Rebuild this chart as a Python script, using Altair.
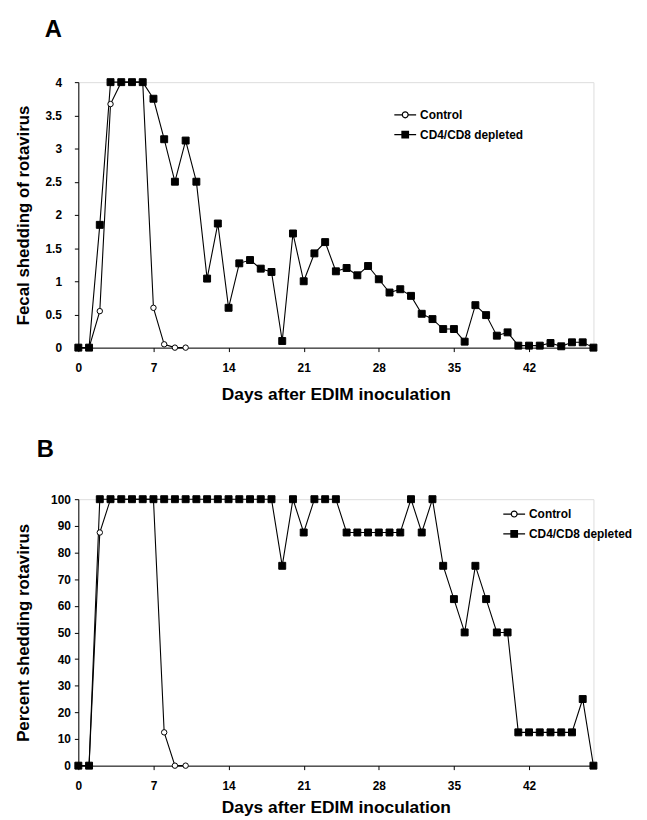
import altair as alt
import pandas as pd

FONT = "Liberation Sans"

# ---- Panel A: fecal shedding score ----
a_ctrl_days = [0, 1, 2, 3, 4, 5, 6, 7, 8, 9, 10]
a_ctrl_vals = [0, 0, 0.55, 3.67, 4, 4, 4, 0.6, 0.05, 0, 0]
a_dep_days = [0, 1, 2, 3, 4, 5, 6, 7, 8, 9, 10, 11, 12, 13, 14, 15, 16, 17, 18, 19, 20,
              21, 22, 23, 24, 25, 26, 27, 28, 29, 30, 31, 32, 33, 34, 35, 36, 37, 38, 39,
              40, 41, 42, 43, 44, 45, 46, 47, 48]
a_dep_vals = [0, 0, 1.85, 4, 4, 4, 4, 3.75, 3.14, 2.5, 3.12, 2.5, 1.04, 1.87, 0.6, 1.27,
              1.32, 1.19, 1.14, 0.1, 1.72, 1.0, 1.42, 1.59, 1.15, 1.2, 1.09, 1.23, 1.03,
              0.83, 0.88, 0.78, 0.51, 0.43, 0.28, 0.28, 0.09, 0.64, 0.49, 0.18, 0.23,
              0.03, 0.03, 0.03, 0.07, 0.02, 0.08, 0.08, 0.0]

# ---- Panel B: percent shedding ----
b_ctrl_days = [0, 1, 2, 3, 4, 5, 6, 7, 8, 9, 10]
b_ctrl_vals = [0, 0, 87.5, 100, 100, 100, 100, 100, 12.5, 0, 0]
b_dep_days = a_dep_days
b_dep_vals = [0, 0, 100, 100, 100, 100, 100, 100, 100, 100, 100, 100, 100, 100, 100, 100,
              100, 100, 100, 75, 100, 87.5, 100, 100, 100, 87.5, 87.5, 87.5, 87.5, 87.5,
              87.5, 100, 87.5, 100, 75, 62.5, 50, 75, 62.5, 50, 50, 12.5, 12.5, 12.5,
              12.5, 12.5, 12.5, 25, 0]

series_names = ["Control", "CD4/CD8 depleted"]
x_ticks = [0, 7, 14, 21, 28, 35, 42]
a_y_ticks = [0, 0.5, 1, 1.5, 2, 2.5, 3, 3.5, 4]
b_y_ticks = [0, 10, 20, 30, 40, 50, 60, 70, 80, 90, 100]


def frame(cd, cv, dd, dv):
    rows = [{"day": d, "value": v, "series": series_names[0]} for d, v in zip(cd, cv)]
    rows += [{"day": d, "value": v, "series": series_names[1]} for d, v in zip(dd, dv)]
    return pd.DataFrame(rows)


ctrl_path = ("M-1,0H-0.27M0.27,0H1M0.27,0A0.27,0.27,0,1,1,-0.27,0"
             "A0.27,0.27,0,1,1,0.27,0Z")
dep_path = "M-1,0H1M-0.3,-0.3H0.3V0.3H-0.3Z"


def panel(df, letter, title_dx, title_offset, y_title, y_ticks, y_max, height,
          y_label_pad, y_title_pad, legend_x, legend_y, fmt, x_title_pad):
    x = alt.X("day:Q", scale=alt.Scale(domain=[0, 48], nice=False),
              axis=alt.Axis(values=x_ticks, title="Days after EDIM inoculation",
                            grid=False, tickSize=4, labelPadding=11,
                            titlePadding=x_title_pad,
                            labelFontSize=12, labelFontWeight="bold", titleFontSize=17.5,
                            titleFontWeight="bold", labelFont=FONT, titleFont=FONT,
                            domainColor="black", tickColor="black", labelColor="black",
                            titleColor="black", labelFlush=False))
    y = alt.Y("value:Q", scale=alt.Scale(domain=[0, y_max], nice=False),
              axis=alt.Axis(values=y_ticks, title=y_title, grid=False, tickSize=4,
                            labelPadding=y_label_pad, titlePadding=y_title_pad,
                            format=fmt, labelFontSize=12, labelFontWeight="bold",
                            titleFontSize=17, titleFontWeight="bold", labelFont=FONT,
                            titleFont=FONT, domainColor="black", tickColor="black",
                            labelColor="black", titleColor="black", labelFlush=False))
    base = alt.Chart(df)
    lines = base.mark_line(color="black", strokeWidth=1.1).encode(
        x=x, y=y, detail="series:N")
    points = base.mark_point(filled=False, stroke="black", strokeWidth=1,
                             opacity=1).encode(
        x=x, y=y,
        shape=alt.Shape("series:N",
                        scale=alt.Scale(domain=series_names, range=["circle", "square"]),
                        legend=None),
        fill=alt.Fill("series:N",
                      scale=alt.Scale(domain=series_names, range=["white", "black"]),
                      legend=None),
        size=alt.Size("series:N",
                      scale=alt.Scale(domain=series_names, range=[30, 49]),
                      legend=None),
    )
    leg = alt.Legend(title=None, orient="none", legendX=legend_x, legendY=legend_y,
                     padding=0, rowPadding=2, labelFontSize=12, labelFontWeight="bold",
                     labelFont=FONT, labelColor="black", labelOffset=3,
                     symbolSize=484, symbolStrokeColor="black", symbolStrokeWidth=1.2,
                     symbolOpacity=1)
    legend_layer = base.transform_filter("datum.day < 0").mark_point(
        filled=False, stroke="black", strokeWidth=1.2, size=484, opacity=1).encode(
        x=x, y=y,
        shape=alt.Shape("series:N",
                        scale=alt.Scale(domain=series_names, range=[ctrl_path, dep_path]),
                        legend=leg),
        fill=alt.Fill("series:N",
                      scale=alt.Scale(domain=series_names, range=["white", "black"]),
                      legend=leg),
        stroke=alt.Stroke("series:N",
                          scale=alt.Scale(domain=series_names, range=["black", "black"]),
                          legend=leg),
    )
    return alt.layer(lines, points, legend_layer).resolve_scale(
        shape="independent", fill="independent", size="independent",
        stroke="independent"
    ).properties(
        width=520, height=height,
        title=alt.TitleParams(letter, anchor="start", frame="group", fontSize=24,
                              fontWeight="bold", font=FONT, color="black",
                              dx=title_dx, offset=title_offset),
    )


df_a = frame(a_ctrl_days, a_ctrl_vals, a_dep_days, a_dep_vals)
df_b = frame(b_ctrl_days, b_ctrl_vals, b_dep_days, b_dep_vals)

chart_a = panel(df_a, "A", -34, 35, "Fecal shedding of rotavirus", a_y_ticks, 4, 268,
                13, 13, 318, 21, "~g", 12)
chart_b = panel(df_b, "B", -42, 32, "Percent shedding rotavirus", b_y_ticks, 100, 269,
                4, 18, 428, 3, "d", 7)

chart = alt.vconcat(chart_a, chart_b, spacing=34).configure_view(
    stroke=None).configure(background="white", padding={"left": 5, "right": 5,
                                                          "top": 5, "bottom": 0})

chart.save("out.html", embed_options={"renderer": "svg", "actions": False})
